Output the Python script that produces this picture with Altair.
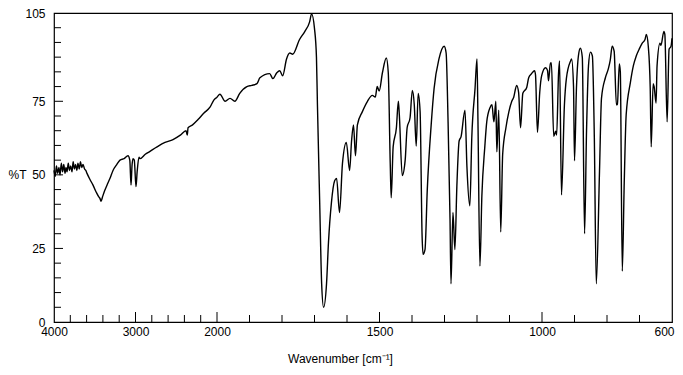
import altair as alt
import pandas as pd

wavenumber = [
    4000, 3985, 3970, 3955, 3940, 3926, 3910, 3895, 3880, 3865, 3853, 3840, 3825, 3810, 3795, 3779,
    3765, 3750, 3735, 3720, 3706, 3690, 3675, 3660, 3644, 3625, 3610, 3595, 3560, 3521, 3480, 3450,
    3436, 3423, 3405, 3380, 3350, 3310, 3276, 3230, 3190, 3140, 3092, 3070, 3055, 3043, 3031, 3015,
    2994, 2980, 2957, 2945, 2880, 2822, 2736, 2638, 2540, 2450, 2380, 2365, 2355, 2300, 2233, 2160,
    2086, 2037, 2000, 1991, 1975, 1960, 1945, 1930, 1908, 1893, 1877, 1868, 1838, 1828, 1816, 1807,
    1798, 1786, 1776, 1767, 1746, 1730, 1715, 1709, 1700, 1694, 1691, 1684, 1678, 1672, 1663, 1657,
    1648, 1638, 1632, 1623, 1614, 1602, 1592, 1586, 1580, 1574, 1568, 1553, 1537, 1522, 1513, 1507,
    1501, 1491, 1479, 1473, 1467, 1464, 1458, 1448, 1442, 1439, 1430, 1421, 1415, 1406, 1399, 1393,
    1387, 1381, 1375, 1369, 1366, 1360, 1353, 1341, 1332, 1317, 1301, 1295, 1289, 1283, 1280, 1274,
    1268, 1262, 1255, 1249, 1237, 1231, 1222, 1216, 1206, 1200, 1197, 1191, 1185, 1176, 1170, 1160,
    1154, 1148, 1142, 1139, 1133, 1127, 1121, 1111, 1102, 1093, 1087, 1078, 1072, 1066, 1059, 1047,
    1041, 1032, 1023, 1020, 1014, 1007, 1001, 989, 983, 980, 974, 971, 964, 958, 955, 949,
    946, 940, 931, 925, 912, 909, 903, 900, 894, 888, 882, 876, 869, 863, 857, 851,
    845, 839, 833, 823, 817, 805, 796, 790, 784, 778, 771, 768, 762, 759, 753, 747,
    741, 728, 719, 710, 701, 692, 683, 679, 673, 667, 664, 658, 655, 649, 646, 637,
    634, 625, 622, 615, 609, 603, 600,
]
transmittance = [
    51.5, 49.5, 53, 50.5, 52.5, 50, 54, 51, 53.5, 50.5, 52.5, 51, 54, 51.5, 53, 51,
    54.5, 52, 53.5, 51.5, 54, 52, 54.5, 52.5, 53.5, 52, 51.5, 50.5, 48.5, 46.5, 44, 42.5,
    42, 41, 42.5, 44.5, 46.5, 49, 51.5, 53.5, 55, 55.5, 56.5, 55, 46.5, 53, 55.5, 55,
    46, 51, 56, 55.5, 57, 58, 59.5, 61, 62, 63.5, 65, 63.5, 66, 67, 68.8, 71,
    73, 75.5, 76.4, 77.4, 75, 76, 75, 77.7, 80, 80.4, 81, 83, 84.4, 82.7, 84.7, 85.4,
    83.7, 89.4, 91.4, 91, 96, 98.7, 102, 104.7, 99.7, 90, 74, 40.5, 13, 5, 13, 27,
    40.5, 48, 48.8, 37.2, 53.8, 61, 51.5, 61.5, 67, 56.5, 67, 71.4, 75, 77, 76.4, 80,
    78.5, 84.7, 89.7, 84.7, 54, 42.2, 59.5, 66, 75, 70.4, 49.8, 55, 66, 69.4, 78.7, 73.8,
    59.8, 77.7, 71.4, 29.5, 23, 24.6, 44.9, 67, 79.4, 89.4, 93.7, 91.4, 68, 35, 13, 37.2,
    24.6, 46, 61.5, 63, 72, 52.8, 39.5, 62.8, 79.4, 89.4, 68, 19, 42.9, 59.5, 68, 72.8,
    73.8, 68, 75, 57.8, 72, 30.6, 57, 66, 71.4, 75, 76.4, 80.4, 78, 66, 77.7, 79.7,
    83, 84.4, 85.4, 84, 64.5, 78, 83.7, 86.4, 85.5, 82, 88, 88, 63.1, 64.8, 63.5, 84.7,
    88.7, 43.2, 73.8, 82.7, 88.7, 89.4, 80, 54.8, 79.4, 90.4, 93, 90, 30, 64.8, 87, 91.7,
    90.4, 62.8, 13, 51.5, 76, 83, 86, 89, 93.7, 92, 73.8, 74, 87.7, 85, 17.3, 47.2,
    70.4, 81.4, 87, 90.4, 92.7, 94.7, 96, 97.7, 93.7, 79.4, 59.5, 81, 80, 74.4, 87, 94.7,
    94, 98.7, 97.7, 68, 92.7, 93.7, 96.4,
]

x_labels = [4000, 3000, 2000, 1500, 1000, 600]
x_minor = [3800, 3600, 3400, 3200, 2800, 2600, 2400, 2200,
           1900, 1800, 1700, 1600, 1400, 1300, 1200, 1100, 900, 800, 700]
x_major = [3000, 2000, 1500, 1000]
y_labels = [0, 25, 50, 75, 105]
y_minor = [5, 10, 15, 20, 30, 35, 40, 45, 55, 60, 65, 70, 80, 85, 90, 95, 100]
y_major = [25, 50, 75]

W, H = 618, 309
FONT = "Liberation Sans"

spec = pd.DataFrame({"wn": wavenumber, "T": transmittance})
xscale = alt.Scale(domain=[4000, 2000, 600], range=[0, 163, W], nice=False, zero=False)
yscale = alt.Scale(domain=[0, 105], nice=False, zero=False)

xaxis = alt.Axis(values=x_labels, format="d", ticks=False, domain=False, grid=False,
                 labelFont=FONT, labelFontSize=12, labelColor="black",
                 labelPadding=4, labelFlush=False,
                 labelOffset={"condition": {"test": "datum.value == 600", "value": -8}, "value": 0},
                 title="Wavenumber [cm⁻¹]", titleFont=FONT, titleFontSize=12,
                 titleFontWeight="normal", titleColor="black",
                 titleX=286, titleY=36, titleBaseline="middle")
yaxis = alt.Axis(values=y_labels, format="d", ticks=False, domain=False, grid=False,
                 labelFont=FONT, labelFontSize=12, labelColor="black",
                 labelPadding=9, labelFlush=False,
                 title="%T", titleFont=FONT, titleFontSize=12,
                 titleFontWeight="normal", titleColor="black", titleAngle=0,
                 titleX=-46, titleY=H * (1 - 50 / 105), titleBaseline="middle",
                 titleAlign="left")

line = alt.Chart(spec).mark_line(color="black", strokeWidth=1.4, interpolate="monotone").encode(
    x=alt.X("wn:Q", scale=xscale, axis=xaxis),
    y=alt.Y("T:Q", scale=yscale, axis=yaxis),
)

def xticks(vals, length):
    return alt.Chart(pd.DataFrame({"wn": vals})).mark_rule(color="black", strokeWidth=1).encode(
        x=alt.X("wn:Q", scale=xscale, axis=xaxis),
        y=alt.value(H), y2=alt.value(H - length))

def yticks(vals, length):
    return alt.Chart(pd.DataFrame({"T": vals})).mark_rule(color="black", strokeWidth=1).encode(
        y=alt.Y("T:Q", scale=yscale, axis=yaxis),
        x=alt.value(0), x2=alt.value(length))

chart = alt.layer(
    line,
    xticks(x_minor, 7), xticks(x_major, 10),
    yticks(y_minor, 7), yticks(y_major, 9),
).properties(
    width=W, height=H,
    autosize=alt.AutoSizeParams(type="none"),
    padding={"left": 46, "top": 5, "right": 3, "bottom": 44},
).configure_view(stroke="black", strokeWidth=1.2)

chart.save("out.html", embed_options={"renderer": "svg", "actions": False})
